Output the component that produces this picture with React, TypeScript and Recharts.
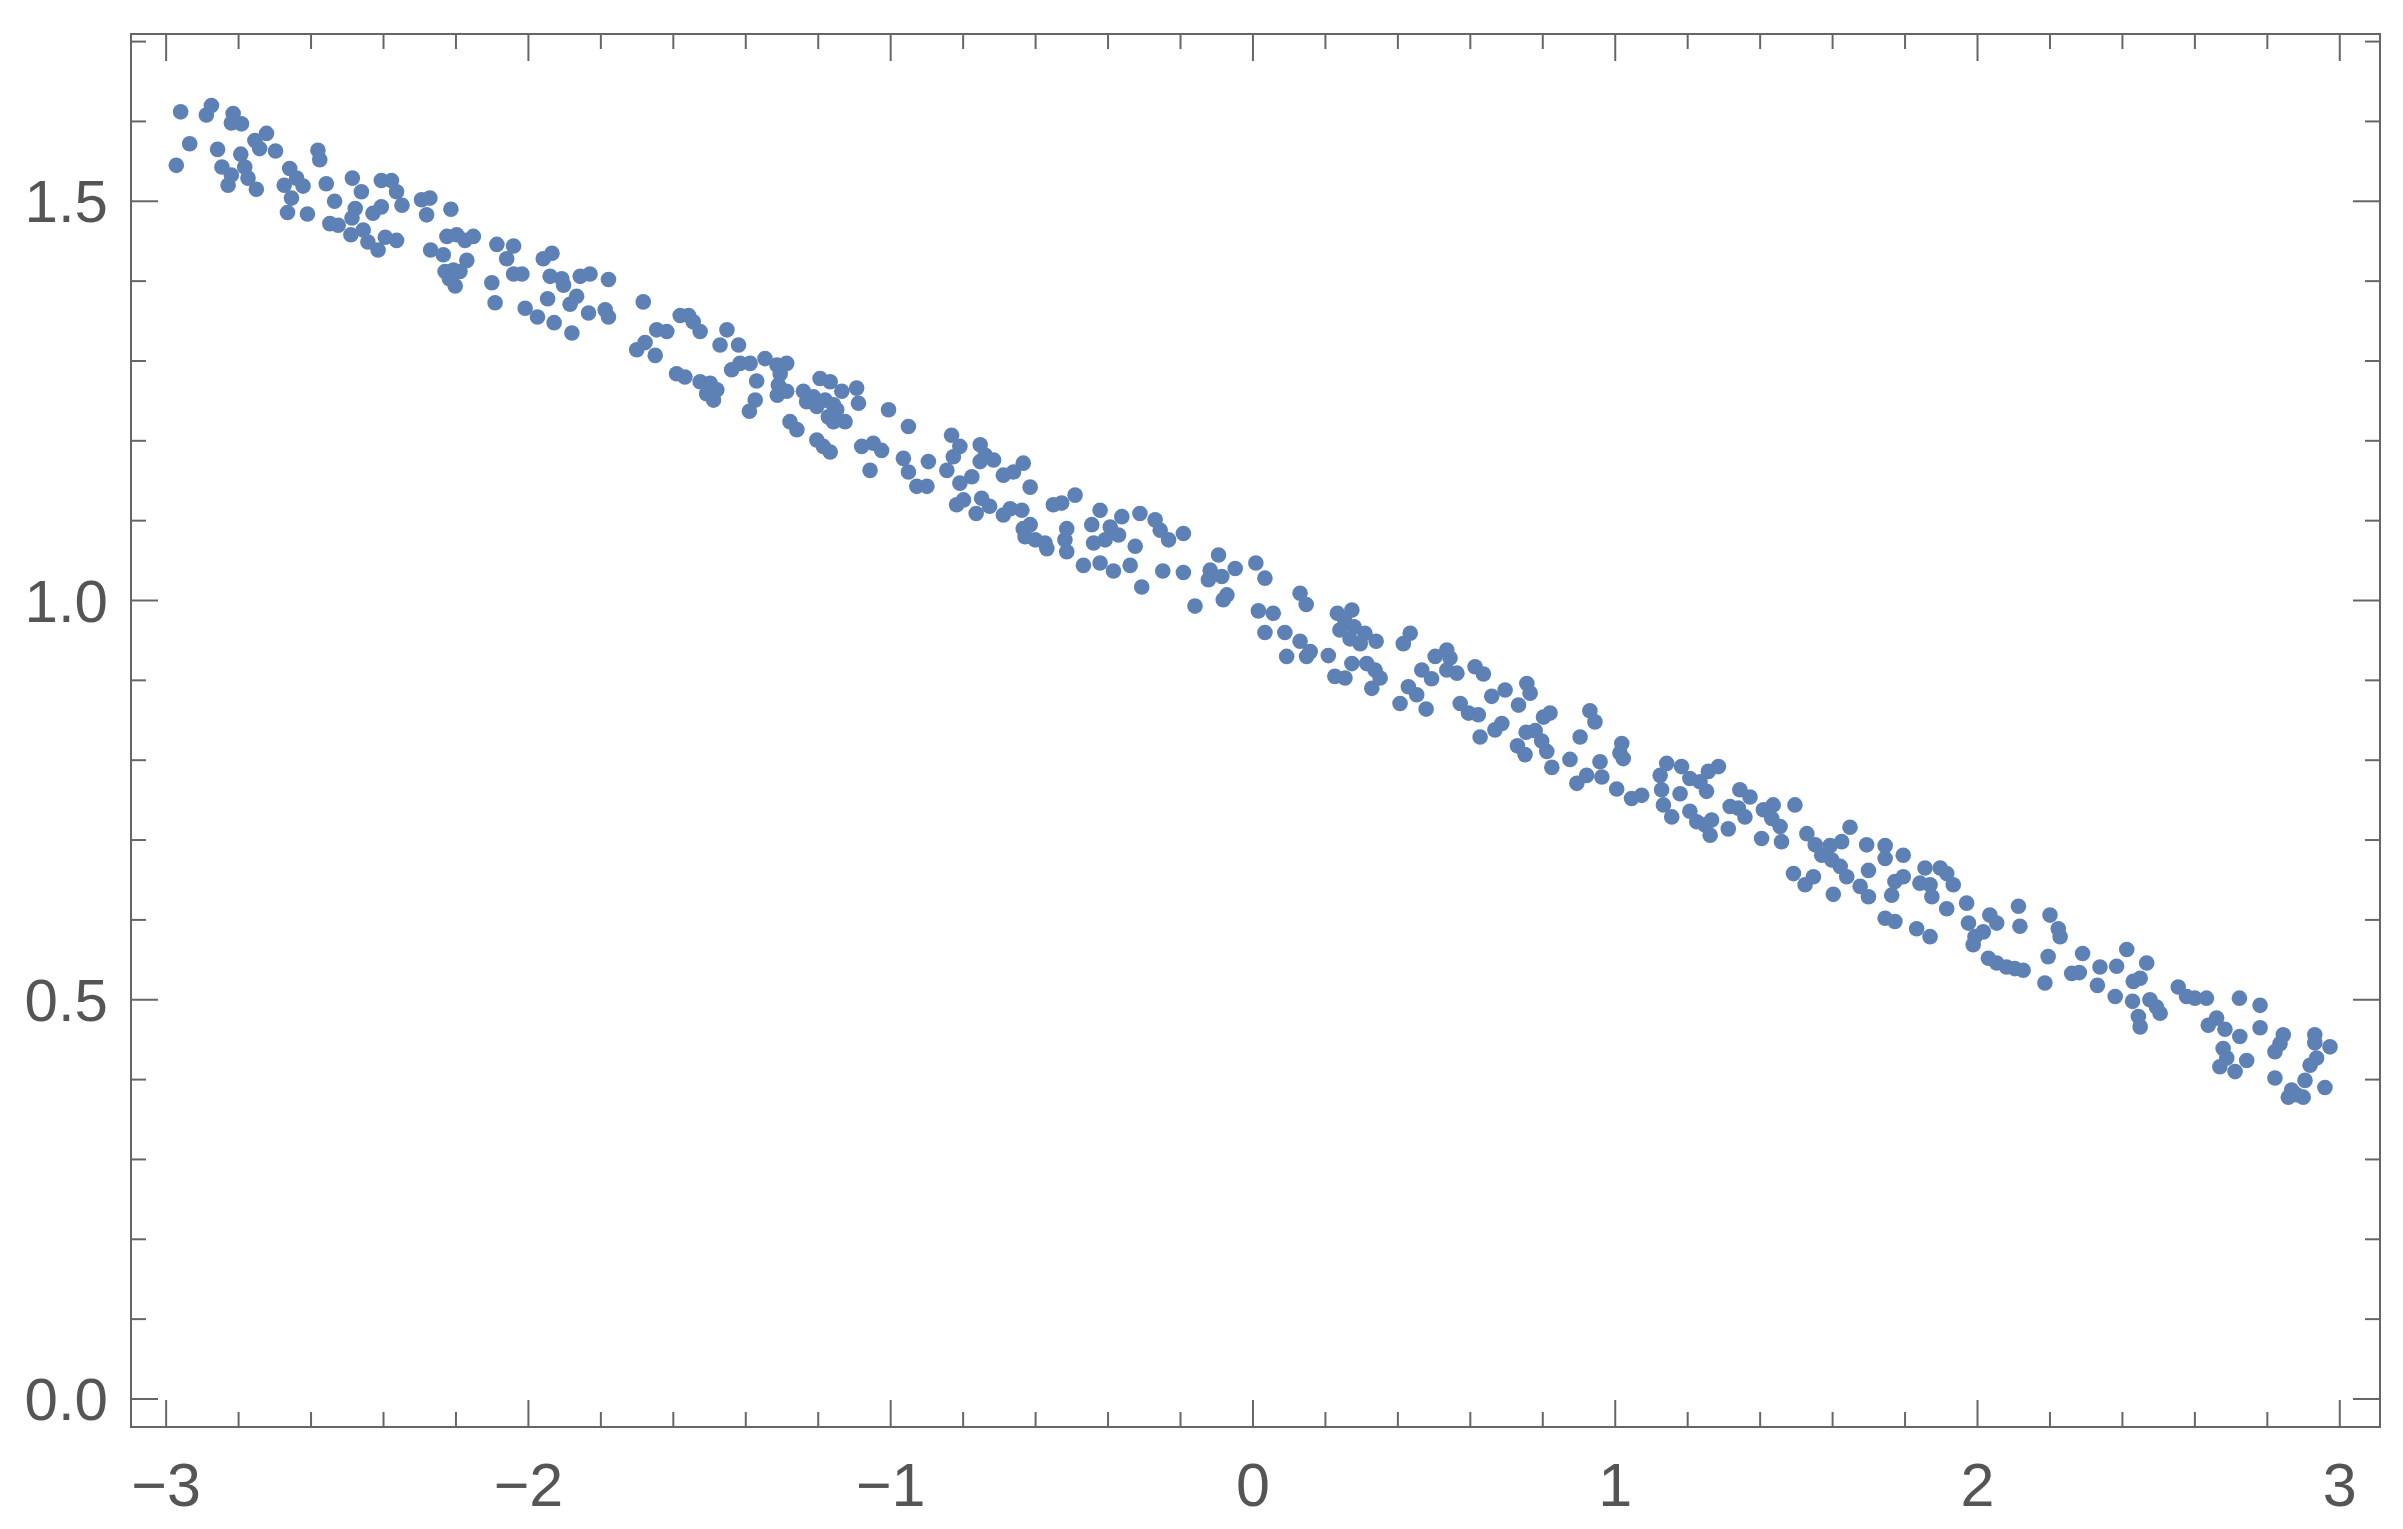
import { ReferenceArea, Scatter, ScatterChart, XAxis, YAxis } from "recharts";

// points, left to right in eight bands
const bandA: [number, number][] = [
  [-2.96, 1.612], [-2.875, 1.62], [-2.889, 1.608], [-2.815, 1.61], [-2.82, 1.598], [-2.792, 1.597],
  [-2.935, 1.572], [-2.972, 1.545], [-2.858, 1.565], [-2.755, 1.576], [-2.723, 1.585], [-2.742, 1.566],
  [-2.698, 1.563], [-2.794, 1.559], [-2.783, 1.543], [-2.846, 1.543], [-2.82, 1.533], [-2.829, 1.52],
  [-2.774, 1.529], [-2.751, 1.515], [-2.581, 1.564], [-2.576, 1.552], [-2.659, 1.541], [-2.64, 1.529],
  [-2.674, 1.52], [-2.622, 1.519], [-2.654, 1.504], [-2.665, 1.486], [-2.61, 1.484], [-2.558, 1.522],
  [-2.535, 1.5], [-2.548, 1.472], [-2.525, 1.47], [-2.486, 1.529], [-2.461, 1.512], [-2.478, 1.491],
  [-2.487, 1.479], [-2.49, 1.458], [-2.456, 1.464], [-2.443, 1.449], [-2.415, 1.439], [-2.406, 1.526],
  [-2.378, 1.526], [-2.364, 1.512], [-2.349, 1.495], [-2.429, 1.485], [-2.406, 1.493], [-2.395, 1.455],
  [-2.364, 1.451], [-2.295, 1.502], [-2.272, 1.504], [-2.281, 1.483], [-2.27, 1.439],
];

const bandB: [number, number][] = [
  [-2.214, 1.49], [-2.225, 1.456], [-2.198, 1.458], [-2.175, 1.451], [-2.152, 1.456], [-2.235, 1.433],
  [-2.17, 1.426], [-2.23, 1.412], [-2.207, 1.414], [-2.189, 1.412], [-2.218, 1.403], [-2.202, 1.394],
  [-2.087, 1.446], [-2.041, 1.444], [-2.06, 1.428], [-2.101, 1.398], [-2.092, 1.373], [-2.041, 1.409],
  [-2.018, 1.409], [-1.959, 1.428], [-1.935, 1.435], [-1.94, 1.406], [-1.908, 1.403], [-1.903, 1.395],
  [-1.857, 1.406], [-1.83, 1.409], [-1.779, 1.402], [-1.947, 1.378], [-2.009, 1.366], [-1.975, 1.355],
  [-1.929, 1.348], [-1.88, 1.335], [-1.885, 1.371], [-1.867, 1.381], [-1.834, 1.36], [-1.788, 1.364],
  [-1.779, 1.355], [-1.683, 1.374], [-1.581, 1.357], [-1.558, 1.357], [-1.545, 1.349], [-1.526, 1.337],
  [-1.646, 1.339], [-1.618, 1.337], [-1.678, 1.323], [-1.701, 1.314], [-1.65, 1.307], [-1.591, 1.284],
  [-1.568, 1.28], [-1.526, 1.274],
];

const bandC: [number, number][] = [
  [-1.452, 1.339], [-1.471, 1.32], [-1.42, 1.32], [-1.498, 1.272], [-1.48, 1.264], [-1.508, 1.259],
  [-1.489, 1.251], [-1.439, 1.289], [-1.416, 1.297], [-1.388, 1.297], [-1.347, 1.303], [-1.314, 1.295],
  [-1.287, 1.297], [-1.305, 1.284], [-1.37, 1.275], [-1.374, 1.251], [-1.39, 1.237], [-1.31, 1.27],
  [-1.313, 1.257], [-1.287, 1.262], [-1.195, 1.278], [-1.167, 1.274], [-1.135, 1.262], [-1.094, 1.266],
  [-1.089, 1.247], [-1.241, 1.262], [-1.213, 1.255], [-1.232, 1.249], [-1.204, 1.243], [-1.181, 1.251],
  [-1.158, 1.245], [-1.149, 1.239], [-1.172, 1.23], [-1.158, 1.224], [-1.126, 1.224], [-1.278, 1.224],
  [-1.259, 1.214], [-1.204, 1.201], [-1.186, 1.193], [-1.167, 1.186], [-1.006, 1.239], [-0.951, 1.218],
  [-1.08, 1.193], [-1.048, 1.197], [-1.025, 1.188], [-1.057, 1.163], [-0.965, 1.178], [-0.951, 1.161],
  [-0.896, 1.174], [-0.928, 1.143], [-0.9, 1.143], [-0.832, 1.207], [-0.809, 1.193], [-0.827, 1.18],
  [-0.845, 1.163], [-0.776, 1.155], [-0.809, 1.147], [-0.818, 1.12], [-0.799, 1.126],
];

const bandD: [number, number][] = [
  [-0.753, 1.195], [-0.739, 1.182], [-0.753, 1.174], [-0.716, 1.176], [-0.749, 1.128], [-0.727, 1.118],
  [-0.764, 1.109], [-0.689, 1.157], [-0.661, 1.161], [-0.634, 1.172], [-0.615, 1.142], [-0.689, 1.107],
  [-0.67, 1.115], [-0.638, 1.113], [-0.634, 1.09], [-0.615, 1.095], [-0.629, 1.08], [-0.601, 1.076],
  [-0.574, 1.072], [-0.569, 1.065], [-0.551, 1.12], [-0.528, 1.122], [-0.491, 1.132], [-0.514, 1.09],
  [-0.519, 1.076], [-0.514, 1.061], [-0.422, 1.113], [-0.445, 1.095], [-0.44, 1.072], [-0.408, 1.076],
  [-0.394, 1.092], [-0.371, 1.082], [-0.362, 1.105], [-0.468, 1.044], [-0.422, 1.047], [-0.385, 1.037],
  [-0.339, 1.044], [-0.325, 1.068], [-0.312, 1.109], [-0.27, 1.101], [-0.256, 1.088], [-0.233, 1.076],
  [-0.192, 1.084], [-0.307, 1.017], [-0.249, 1.037], [-0.192, 1.035], [-0.095, 1.057], [-0.118, 1.038],
  [-0.123, 1.026], [-0.086, 1.03], [-0.049, 1.04], [-0.072, 1.007], [-0.082, 1.001], [-0.16, 0.993],
];

const bandE: [number, number][] = [
  [0.008, 1.047], [0.033, 1.028], [0.13, 1.009], [0.147, 0.995], [0.015, 0.987], [0.056, 0.984],
  [0.033, 0.96], [0.088, 0.96], [0.13, 0.949], [0.093, 0.93], [0.148, 0.93], [0.158, 0.936],
  [0.208, 0.931], [0.233, 0.984], [0.273, 0.988], [0.254, 0.974], [0.24, 0.963], [0.279, 0.967],
  [0.268, 0.952], [0.296, 0.946], [0.309, 0.959], [0.34, 0.949], [0.226, 0.905], [0.254, 0.903],
  [0.273, 0.921], [0.314, 0.921], [0.337, 0.913], [0.351, 0.903], [0.328, 0.89], [0.415, 0.946],
  [0.434, 0.959], [0.406, 0.871], [0.429, 0.892], [0.466, 0.913], [0.493, 0.902], [0.452, 0.882],
  [0.478, 0.864], [0.503, 0.93], [0.535, 0.938], [0.544, 0.928], [0.535, 0.913], [0.563, 0.909],
  [0.613, 0.917], [0.636, 0.908], [0.572, 0.871], [0.595, 0.859], [0.622, 0.857], [0.659, 0.88],
  [0.696, 0.888], [0.687, 0.846], [0.668, 0.838], [0.627, 0.829],
];

const bandF: [number, number][] = [
  [0.756, 0.896], [0.765, 0.884], [0.733, 0.869], [0.802, 0.854], [0.82, 0.859], [0.754, 0.835],
  [0.779, 0.837], [0.797, 0.824], [0.73, 0.818], [0.751, 0.807], [0.811, 0.811], [0.825, 0.791],
  [0.875, 0.801], [0.93, 0.862], [0.944, 0.848], [0.903, 0.829], [0.894, 0.771], [0.921, 0.781],
  [0.958, 0.798], [0.963, 0.779], [1.018, 0.821], [1.013, 0.809], [1.022, 0.802], [1.004, 0.764],
  [1.045, 0.752], [1.073, 0.756], [1.124, 0.781], [1.142, 0.796], [1.183, 0.792], [1.128, 0.763],
  [1.133, 0.744], [1.156, 0.729], [1.179, 0.758], [1.206, 0.777], [1.234, 0.773], [1.257, 0.786],
  [1.285, 0.792], [1.252, 0.761], [1.206, 0.736], [1.225, 0.723], [1.248, 0.719], [1.262, 0.706],
  [1.266, 0.725], [1.312, 0.714], [1.344, 0.763], [1.372, 0.754], [1.317, 0.742], [1.34, 0.74],
  [1.358, 0.729], [1.409, 0.738], [1.436, 0.744], [1.432, 0.727], [1.455, 0.717], [1.459, 0.698],
  [1.404, 0.702],
];

const bandG: [number, number][] = [
  [1.496, 0.744], [1.529, 0.708], [1.552, 0.694], [1.57, 0.681], [1.593, 0.693], [1.625, 0.698],
  [1.598, 0.675], [1.621, 0.667], [1.639, 0.654], [1.648, 0.716], [1.694, 0.694], [1.492, 0.658],
  [1.524, 0.644], [1.547, 0.654], [1.602, 0.632], [1.699, 0.662], [1.676, 0.642], [1.699, 0.629],
  [1.745, 0.693], [1.745, 0.677], [1.795, 0.681], [1.772, 0.648], [1.795, 0.654], [1.763, 0.631],
  [1.855, 0.665], [1.841, 0.646], [1.869, 0.644], [1.897, 0.665], [1.915, 0.658], [1.933, 0.644],
  [1.874, 0.629], [1.745, 0.602], [1.772, 0.598], [1.832, 0.589], [1.869, 0.579], [1.915, 0.614],
  [1.97, 0.621], [1.975, 0.596], [1.993, 0.579], [1.988, 0.569], [2.016, 0.585], [2.034, 0.606],
  [2.053, 0.596], [2.113, 0.617], [2.117, 0.592], [2.03, 0.552], [2.053, 0.546], [2.08, 0.541],
  [2.103, 0.539], [2.126, 0.537], [2.2, 0.606], [2.195, 0.554], [2.186, 0.521],
];

const bandH: [number, number][] = [
  [2.223, 0.589], [2.228, 0.579], [2.26, 0.533], [2.281, 0.534], [2.29, 0.558], [2.338, 0.541],
  [2.384, 0.542], [2.331, 0.518], [2.38, 0.504], [2.412, 0.563], [2.467, 0.546], [2.43, 0.523],
  [2.449, 0.527], [2.428, 0.498], [2.476, 0.5], [2.494, 0.491], [2.504, 0.483], [2.444, 0.479],
  [2.449, 0.466], [2.554, 0.516], [2.577, 0.504], [2.6, 0.502], [2.632, 0.502], [2.723, 0.502],
  [2.78, 0.493], [2.637, 0.468], [2.66, 0.477], [2.683, 0.463], [2.724, 0.454], [2.78, 0.465],
  [2.678, 0.439], [2.688, 0.427], [2.669, 0.416], [2.711, 0.41], [2.743, 0.424], [2.821, 0.402],
  [2.844, 0.456], [2.835, 0.445], [2.821, 0.435], [2.931, 0.456], [2.931, 0.446], [2.973, 0.441],
  [2.936, 0.427], [2.918, 0.418], [2.904, 0.399], [2.867, 0.387], [2.858, 0.378], [2.881, 0.381],
  [2.899, 0.378], [2.959, 0.39],
];

const xTicks = [
  -3, -2.8, -2.6, -2.4, -2.2, -2, -1.8, -1.6, -1.4, -1.2, -1, -0.8, -0.6, -0.4, -0.2, 0,
  0.2, 0.4, 0.6, 0.8, 1, 1.2, 1.4, 1.6, 1.8, 2, 2.2, 2.4, 2.6, 2.8, 3,
];
const xLabels = [-3, -2, -1, 0, 1, 2, 3];
const yTicks = [0, 0.1, 0.2, 0.3, 0.4, 0.5, 0.6, 0.7, 0.8, 0.9, 1, 1.1, 1.2, 1.3, 1.4, 1.5, 1.6, 1.7];
const yLabels = ["0.0", "0.5", "1.0", "1.5"];

const X_DOMAIN: [number, number] = [-3.097, 3.111];
const Y_DOMAIN: [number, number] = [-0.0351, 1.7095];

const W = 2403;
const H = 1529;
const MARGIN = { top: 34, right: 23, bottom: 0, left: 0 };
const Y_AXIS_W = 131;
const X_AXIS_H = 102;
const PLOT_W = W - MARGIN.right - Y_AXIS_W;
const PLOT_H = H - MARGIN.top - X_AXIS_H;

const FRAME = "#666666";
const LABEL = "#555555";
const DOT = "#5e81b5";
const FONT = "'Liberation Sans', Arial, sans-serif";
const MAJOR = 27;
const MINOR = 15;

const points = [...bandA, ...bandB, ...bandC, ...bandD, ...bandE, ...bandF, ...bandG, ...bandH].map(
  ([x, y]) => ({ x, y }),
);

const near = (a: number, b: number) => Math.abs(a - b) < 1e-6;

function XTick(props: any) {
  const { x, y, payload } = props;
  const v = payload.value as number;
  const major = xLabels.some((l) => near(l, v));
  const len = major ? MAJOR : MINOR;
  const top = y - PLOT_H;
  return (
    <g>
      <line x1={x} y1={y} x2={x} y2={y - len} stroke={FRAME} strokeWidth={2} />
      <line x1={x} y1={top} x2={x} y2={top + len} stroke={FRAME} strokeWidth={2} />
      {major && (
        <text x={x} y={y + 79} textAnchor="middle" fontSize={61} fontFamily={FONT} fill={LABEL}>
          {v < 0 ? `\u2212${Math.abs(v)}` : String(v)}
        </text>
      )}
    </g>
  );
}

function YTick(props: any) {
  const { x, y, payload } = props;
  const v = payload.value as number;
  const label = yLabels.find((l) => near(Number(l), v));
  const len = label ? MAJOR : MINOR;
  const right = x + PLOT_W;
  return (
    <g>
      <line x1={x} y1={y} x2={x + len} y2={y} stroke={FRAME} strokeWidth={2} />
      <line x1={right} y1={y} x2={right - len} y2={y} stroke={FRAME} strokeWidth={2} />
      {label && (
        <text x={x - 23} y={y + 21} textAnchor="end" fontSize={60} fontFamily={FONT} fill={LABEL}>
          {label}
        </text>
      )}
    </g>
  );
}

function Dot(props: any) {
  return <circle cx={props.cx} cy={props.cy} r={7.8} fill={DOT} />;
}

export default function App() {
  return (
    <div style={{ position: "absolute", left: 0, top: 0, width: W, height: H, background: "#fff" }}>
      <ScatterChart width={W} height={H} margin={MARGIN}>
        <XAxis
          type="number"
          dataKey="x"
          domain={X_DOMAIN}
          allowDataOverflow
          ticks={xTicks}
          interval={0}
          height={X_AXIS_H}
          axisLine={false}
          tickLine={false}
          tickSize={0}
          tickMargin={0}
          tick={<XTick />}
        />
        <YAxis
          type="number"
          dataKey="y"
          domain={Y_DOMAIN}
          allowDataOverflow
          ticks={yTicks}
          interval={0}
          width={Y_AXIS_W}
          axisLine={false}
          tickLine={false}
          tickSize={0}
          tickMargin={0}
          tick={<YTick />}
        />
        <ReferenceArea
          x1={X_DOMAIN[0]}
          x2={X_DOMAIN[1]}
          y1={Y_DOMAIN[0]}
          y2={Y_DOMAIN[1]}
          fill="none"
          stroke={FRAME}
          strokeWidth={2}
        />
        <Scatter data={points} shape={<Dot />} isAnimationActive={false} />
      </ScatterChart>
    </div>
  );
}
